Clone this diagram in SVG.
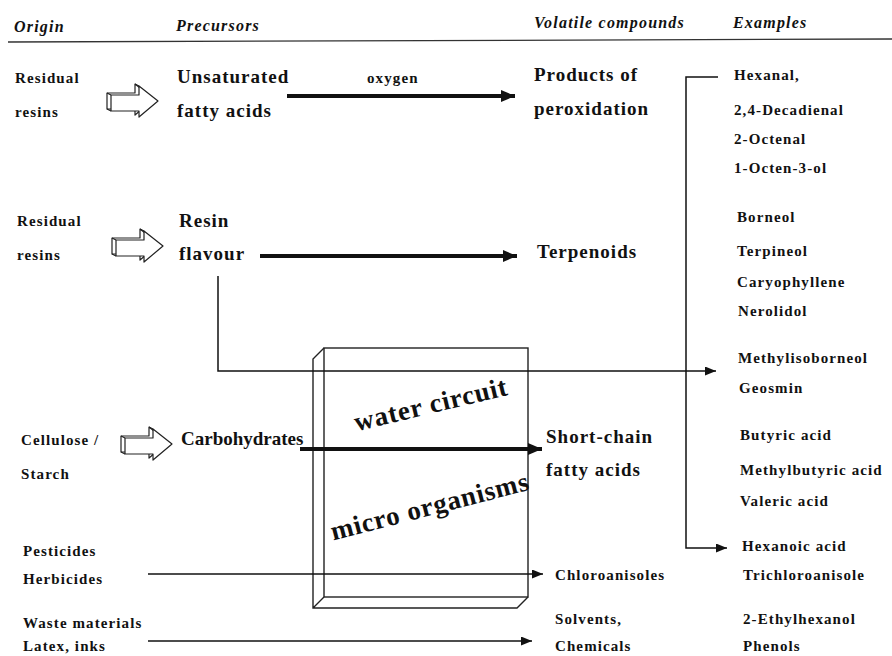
<svg xmlns="http://www.w3.org/2000/svg" xmlns:xlink="http://www.w3.org/1999/xlink" width="892" height="656" viewBox="0 0 892 656">
<style>
text{font-family:"Liberation Serif","Times New Roman",serif;fill:#111;}
.hd{font-size:16px;font-style:italic;font-weight:bold;letter-spacing:1.2px;}
.sm{font-size:15px;font-weight:bold;letter-spacing:1.1px;}
.bg{font-size:19px;font-weight:bold;letter-spacing:1px;}
.bx{font-size:27px;font-weight:bold;letter-spacing:0.8px;}
.thick{stroke:#111;stroke-width:4;fill:none;}
.thin{stroke:#111;stroke-width:1.5;fill:none;}
.ho{fill:#fff;stroke:#222;stroke-width:1.2;stroke-linejoin:round;}
.box{fill:none;stroke:#222;stroke-width:1.4;}
</style>
<defs>
<marker id="mThick" markerUnits="userSpaceOnUse" markerWidth="16" markerHeight="14" refX="14" refY="6" orient="auto">
<path d="M0,0 L14,6 L0,12 Z" fill="#111"/>
</marker>
<marker id="mThin" markerUnits="userSpaceOnUse" markerWidth="12" markerHeight="10" refX="11" refY="4.5" orient="auto">
<path d="M0,0 L11,4.5 L0,9 Z" fill="#111"/>
</marker>
<g id="harrow">
<path class="ho" d="M1,9 L29,9 L29,0 L48,15 L29,31 L29,25 L1,25 Z"/>
<path class="ho" d="M5,11 L33,11 L33,2 L52,17 L33,33 L33,27 L5,27 Z"/>
<path class="ho" d="M1,9 L5,11 M1,25 L5,27 M29,0 L33,2"/>
</g>
</defs>

<g id="header">
<text class="hd" x="14" y="32">Origin</text>
<text class="hd" x="176" y="31">Precursors</text>
<text class="hd" x="534" y="28">Volatile compounds</text>
<text class="hd" x="733" y="28">Examples</text>
<path d="M8,42 L892,39" stroke="#333" stroke-width="1.3" fill="none"/>
</g>

<g id="box">
<rect class="box" x="324" y="348" width="204" height="249"/>
<path class="box" d="M324,348 L313,359 L313,608 L517,608 L528,597 M313,608 L324,597"/>
<text class="bx" transform="translate(433,413) rotate(-13.5)" text-anchor="middle">water circuit</text>
<text class="bx" transform="translate(432,515) rotate(-14.5)" text-anchor="middle">micro organisms</text>
</g>

<g id="connectors">
<line class="thick" x1="287" y1="96" x2="515" y2="96" marker-end="url(#mThick)"/>
<line class="thick" x1="260" y1="256" x2="517" y2="256" marker-end="url(#mThick)"/>
<line class="thick" x1="300" y1="449" x2="542" y2="449" marker-end="url(#mThick)"/>
<path class="thin" d="M218,276 V371 H716" marker-end="url(#mThin)"/>
<path class="thin" d="M718,77 H686 V548 H727" marker-end="url(#mThin)"/>
<line class="thin" x1="148" y1="574" x2="543" y2="574" marker-end="url(#mThin)"/>
<line class="thin" x1="148" y1="641" x2="532" y2="641" marker-end="url(#mThin)"/>
<use xlink:href="#harrow" x="106" y="84"/>
<use xlink:href="#harrow" x="111" y="229"/>
<use xlink:href="#harrow" x="120" y="427"/>
<text class="sm" x="367" y="83">oxygen</text>
</g>

<g id="origin-resins1">
<text class="sm" x="15" y="83">Residual</text>
<text class="sm" x="15" y="117">resins</text>
</g>
<g id="origin-resins2">
<text class="sm" x="17" y="226">Residual</text>
<text class="sm" x="17" y="260">resins</text>
</g>
<g id="origin-cellulose">
<text class="sm" x="21" y="445">Cellulose /</text>
<text class="sm" x="21" y="479">Starch</text>
</g>
<g id="origin-pesticides">
<text class="sm" x="23" y="556">Pesticides</text>
<text class="sm" x="23" y="584">Herbicides</text>
</g>
<g id="origin-waste">
<text class="sm" x="23" y="628">Waste materials</text>
<text class="sm" x="23" y="651">Latex, inks</text>
</g>

<g id="prec-unsat">
<text class="bg" x="177" y="83">Unsaturated</text>
<text class="bg" x="177" y="117">fatty acids</text>
</g>
<g id="prec-resin">
<text class="bg" x="179" y="227">Resin</text>
<text class="bg" x="179" y="260">flavour</text>
</g>
<g id="prec-carb">
<text class="bg" x="181" y="445" style="letter-spacing:0">Carbohydrates</text>
</g>

<g id="vol-perox">
<text class="bg" x="534" y="81">Products of</text>
<text class="bg" x="534" y="115">peroxidation</text>
</g>
<g id="vol-terp">
<text class="bg" x="537" y="258">Terpenoids</text>
</g>
<g id="vol-scfa">
<text class="bg" x="546" y="443">Short-chain</text>
<text class="bg" x="546" y="476">fatty acids</text>
</g>
<g id="vol-chloro">
<text class="sm" x="555" y="580">Chloroanisoles</text>
</g>
<g id="vol-solv">
<text class="sm" x="555" y="624">Solvents,</text>
<text class="sm" x="555" y="651">Chemicals</text>
</g>

<g id="examples">
<text class="sm" x="734" y="80">Hexanal,</text>
<text class="sm" x="734" y="115">2,4-Decadienal</text>
<text class="sm" x="734" y="144">2-Octenal</text>
<text class="sm" x="734" y="173">1-Octen-3-ol</text>
<text class="sm" x="737" y="222">Borneol</text>
<text class="sm" x="737" y="256">Terpineol</text>
<text class="sm" x="737" y="287">Caryophyllene</text>
<text class="sm" x="738" y="316">Nerolidol</text>
<text class="sm" x="738" y="363">Methylisoborneol</text>
<text class="sm" x="739" y="393">Geosmin</text>
<text class="sm" x="740" y="440">Butyric acid</text>
<text class="sm" x="740" y="475">Methylbutyric acid</text>
<text class="sm" x="740" y="506">Valeric acid</text>
<text class="sm" x="742" y="551">Hexanoic acid</text>
<text class="sm" x="743" y="580">Trichloroanisole</text>
<text class="sm" x="743" y="624">2-Ethylhexanol</text>
<text class="sm" x="743" y="651">Phenols</text>
</g>
</svg>
